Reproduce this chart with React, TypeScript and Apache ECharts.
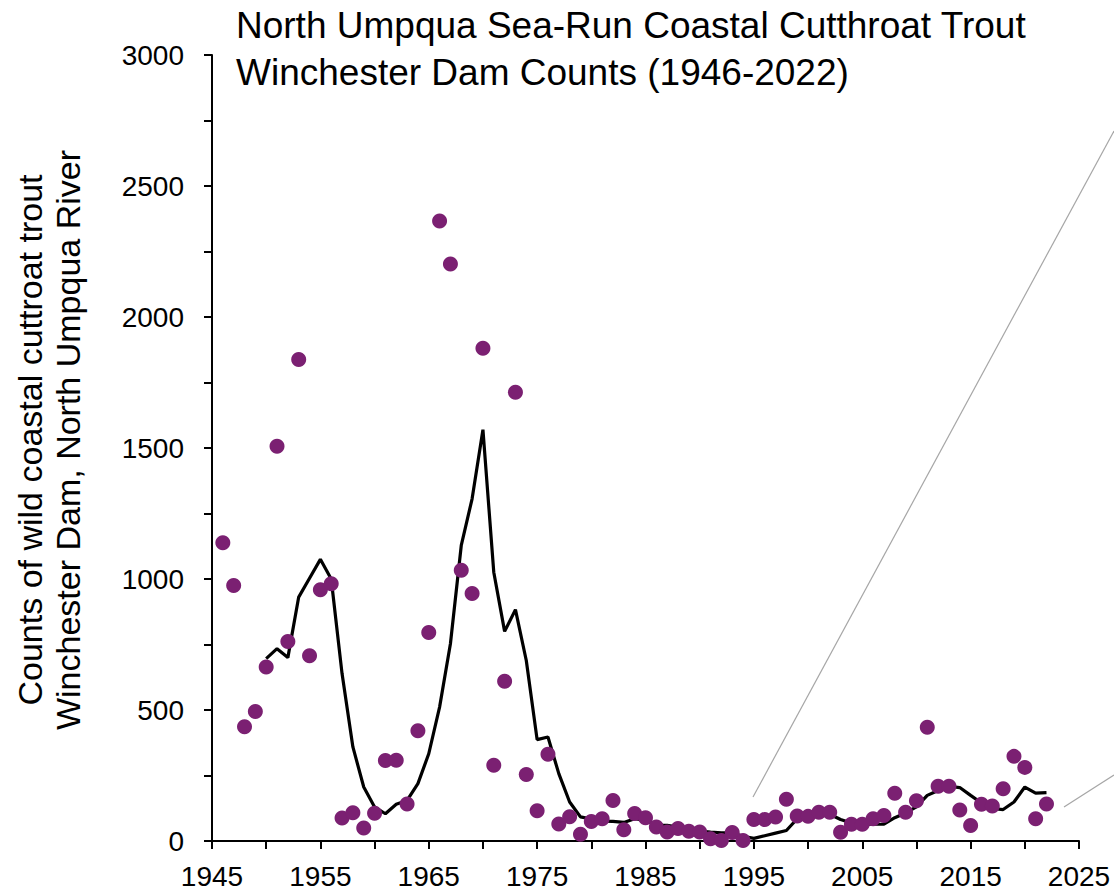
import React, { useEffect, useRef } from "react";
import * as echarts from "echarts";

const countYears = [
  1946, 1947, 1948, 1949, 1950, 1951, 1952, 1953, 1954, 1955, 1956, 1957, 1958, 1959, 1960,
  1961, 1962, 1963, 1964, 1965, 1966, 1967, 1968, 1969, 1970, 1971, 1972, 1973, 1974, 1975,
  1976, 1977, 1978, 1979, 1980, 1981, 1982, 1983, 1984, 1985, 1986, 1987, 1988, 1989, 1990,
  1991, 1992, 1993, 1994, 1995, 1996, 1997, 1998, 1999, 2000, 2001, 2002, 2003, 2004, 2005,
  2006, 2007, 2008, 2009, 2010, 2011, 2012, 2013, 2014, 2015, 2016, 2017, 2018, 2019, 2020,
  2021, 2022,
];
const counts = [
  1138, 975, 436, 494, 664, 1507, 761, 1838, 707, 959, 982, 88, 108, 50, 106,
  307, 308, 141, 421, 796, 2366, 2202, 1033, 945, 1881, 289, 610, 1713, 254, 115,
  331, 65, 93, 26, 74, 85, 155, 43, 105, 89, 53, 34, 48, 37, 34,
  9, 2, 32, 2, 82, 82, 92, 159, 95, 94, 110, 110, 33, 64, 64,
  85, 97, 182, 110, 154, 434, 209, 209, 118, 59, 140, 134, 199, 323, 281,
  85, 141,
];

const avgYears = [
  1950, 1951, 1952, 1953, 1954, 1955, 1956, 1957, 1958, 1959, 1960,
  1961, 1962, 1963, 1964, 1965, 1966, 1967, 1968, 1969, 1970, 1971, 1972, 1973, 1974, 1975,
  1976, 1977, 1978, 1979, 1980, 1981, 1982, 1983, 1984, 1985, 1986, 1987, 1988, 1989, 1990,
  1991, 1992, 1993, 1994, 1995, 1996, 1997, 1998, 1999, 2000, 2001, 2002, 2003, 2004, 2005,
  2006, 2007, 2008, 2009, 2010, 2011, 2012, 2013, 2014, 2015, 2016, 2017, 2018, 2019, 2020,
  2021, 2022,
];
const avgCounts = [
  696, 734, 700, 931, 1003, 1075, 1000, 639, 359, 206, 130,
  104, 140, 155, 219, 333, 511, 753, 1128, 1306, 1570, 1026, 800, 883, 689, 387,
  397, 257, 149, 92, 84, 76, 75, 71, 85, 79, 60, 60, 53, 47, 38,
  34, 31, 31, 18, 10, 20, 30, 40, 85, 92, 98, 102, 82, 69, 64,
  64, 64, 89, 107, 130, 174, 193, 209, 204, 174, 145, 124, 120, 149, 206,
  183, 185,
];

const xTickLabels = ["1945", "1955", "1965", "1975", "1985", "1995", "2005", "2015", "2025"];
const yTickLabels = ["0", "500", "1000", "1500", "2000", "2500", "3000"];

const titleLines = [
  "North Umpqua Sea-Run Coastal Cutthroat Trout",
  "Winchester Dam Counts (1946-2022)",
];
const yTitleLines = [
  "Counts of wild coastal cuttroat trout",
  "Winchester Dam, North Umpqua River",
];

const FONT = '"Liberation Sans", Arial, sans-serif';

export default function App() {
  const ref = useRef<HTMLDivElement>(null);

  useEffect(() => {
    if (!ref.current) return;
    const chart = echarts.init(ref.current, null, { renderer: "svg" });
    chart.setOption({
      animation: false,
      backgroundColor: "#ffffff",
      title: {
        text: titleLines.join("\n"),
        left: 236,
        top: 2,
        padding: 0,
        textStyle: {
          fontSize: 37,
          lineHeight: 47,
          fontWeight: "normal",
          color: "#000",
          fontFamily: FONT,
        },
      },
      grid: { left: 212, right: 35, top: 55, bottom: 54, containLabel: false },
      xAxis: {
        type: "value",
        min: 1945,
        max: 2025,
        interval: 5,
        axisLine: { show: true, lineStyle: { color: "#000", width: 2 } },
        axisTick: { show: true, length: 8, lineStyle: { color: "#000", width: 2 } },
        axisLabel: {
          formatter: (v: number) => (xTickLabels.includes(String(v)) ? String(v) : ""),
          fontSize: 28,
          color: "#000",
          fontFamily: FONT,
          margin: 21,
        },
        splitLine: { show: false },
      },
      yAxis: {
        type: "value",
        min: 0,
        max: 3000,
        interval: 250,
        axisLine: { show: true, lineStyle: { color: "#000", width: 2 } },
        axisTick: { show: true, length: 8, lineStyle: { color: "#000", width: 2 } },
        axisLabel: {
          formatter: (v: number) => (yTickLabels.includes(String(v)) ? String(v) : ""),
          fontSize: 28,
          color: "#000",
          fontFamily: FONT,
          margin: 28,
        },
        splitLine: { show: false },
      },
      graphic: [
        {
          type: "text",
          x: 49,
          y: 440,
          rotation: Math.PI / 2,
          style: {
            text: yTitleLines.join("\n"),
            fontSize: 34,
            fontFamily: FONT,
            lineHeight: 38,
            fill: "#000",
            align: "center",
            verticalAlign: "middle",
          },
        },
        {
          type: "line",
          shape: { x1: 753, y1: 797, x2: 1114, y2: 131 },
          style: { stroke: "#a6a6a6", lineWidth: 1.2 },
          silent: true,
        },
        {
          type: "line",
          shape: { x1: 1064, y1: 807, x2: 1114, y2: 775 },
          style: { stroke: "#a6a6a6", lineWidth: 1.2 },
          silent: true,
        },
      ],
      series: [
        {
          type: "line",
          data: avgYears.map((y, i) => [y, avgCounts[i]]),
          symbol: "none",
          lineStyle: { color: "#000", width: 3.2 },
          z: 2,
        },
        {
          type: "scatter",
          data: countYears.map((y, i) => [y, counts[i]]),
          symbolSize: 15,
          itemStyle: { color: "#7b2072", opacity: 1 },
          z: 3,
        },
      ],
    });
    return () => chart.dispose();
  }, []);

  return (
    <div
      ref={ref}
      style={{ position: "fixed", left: 0, top: 0, width: 1114, height: 895, background: "#fff" }}
    />
  );
}
